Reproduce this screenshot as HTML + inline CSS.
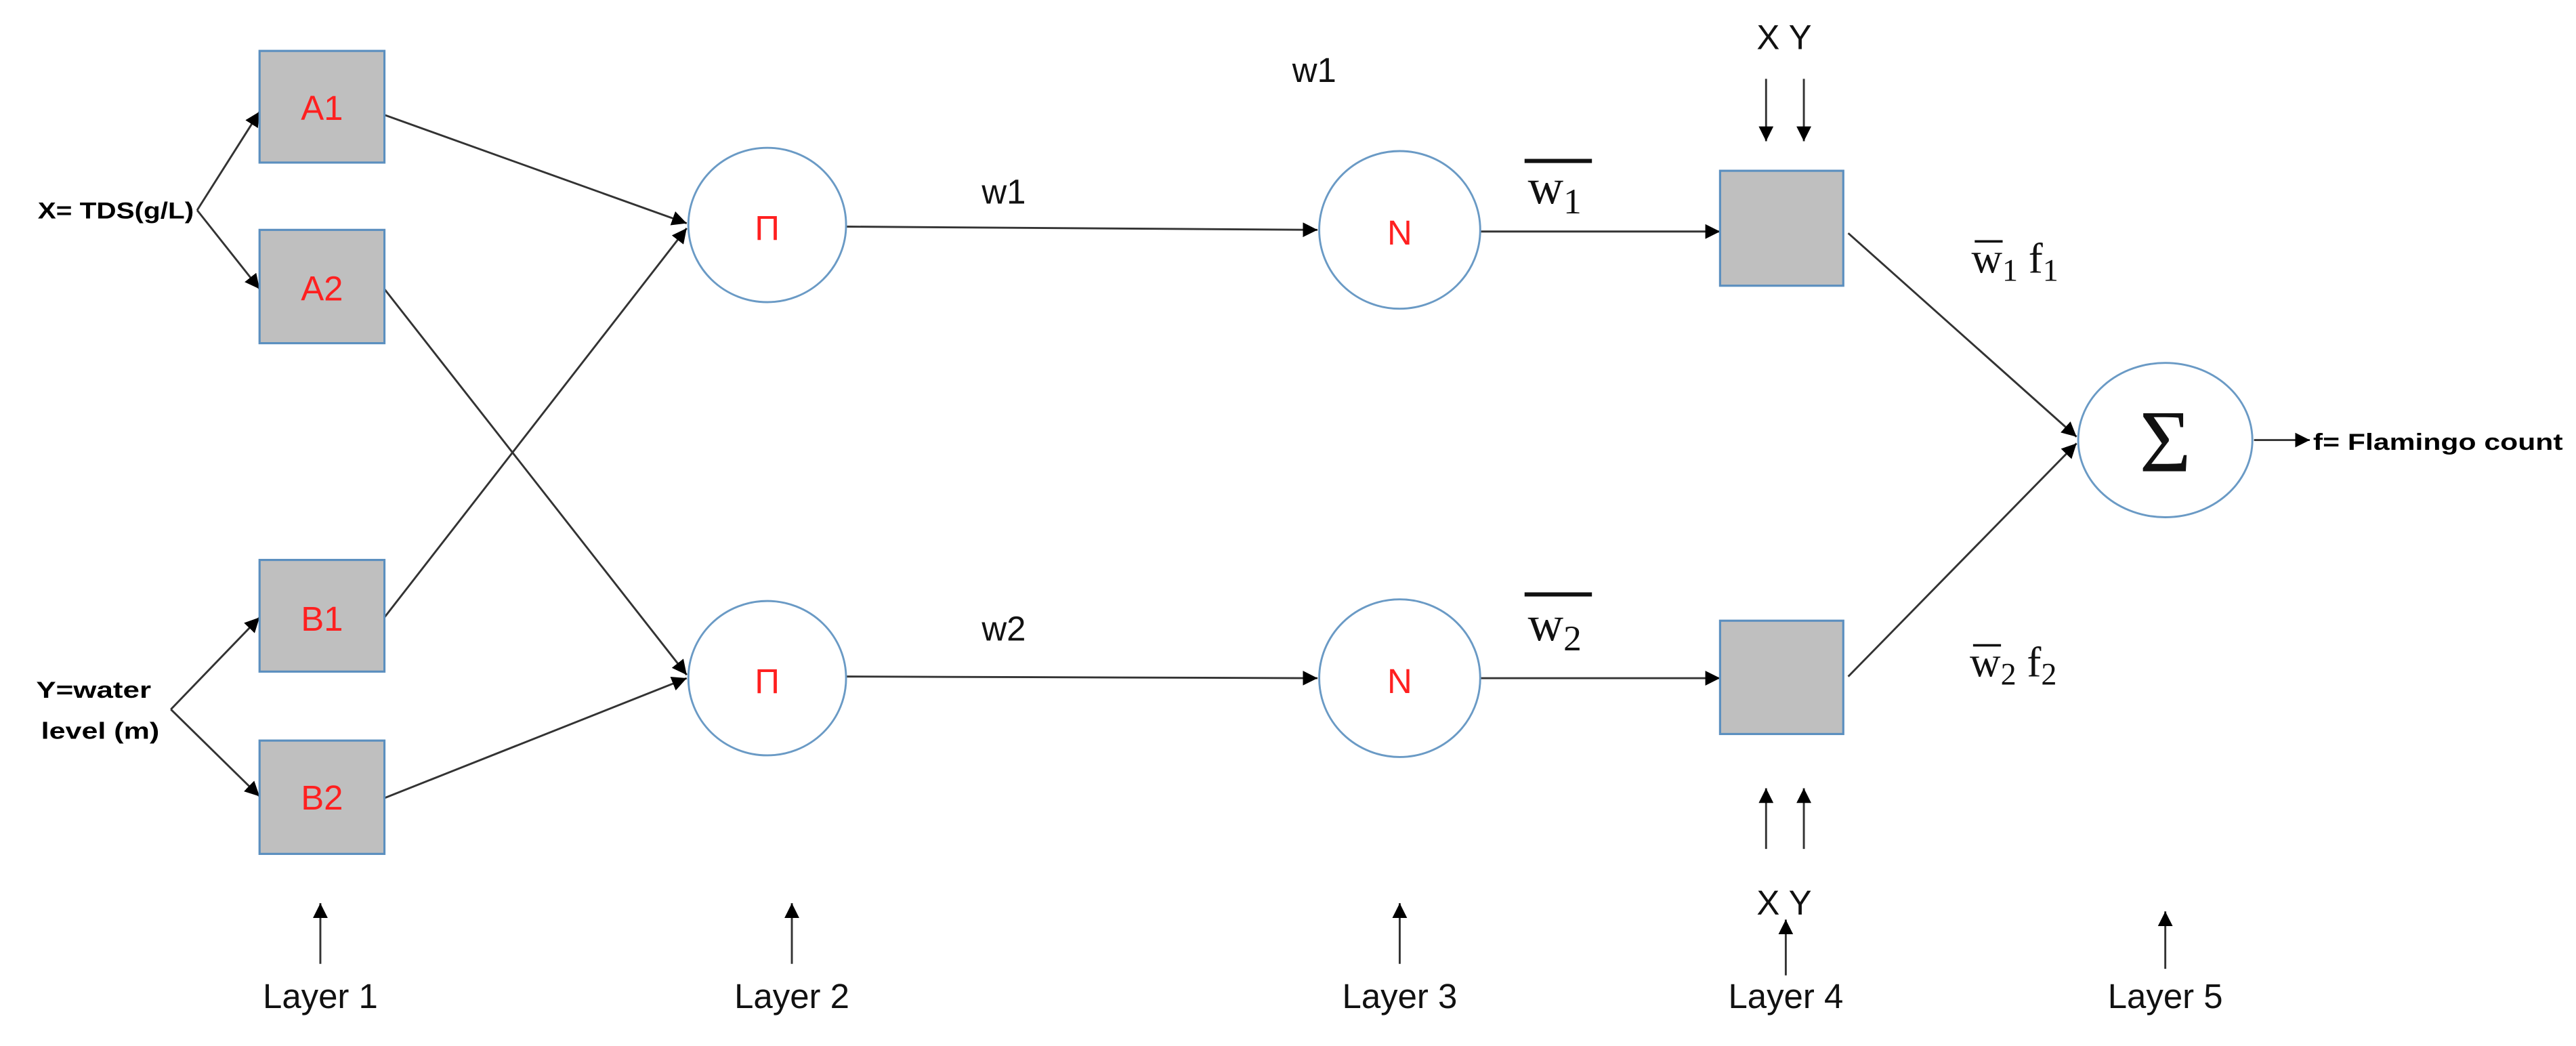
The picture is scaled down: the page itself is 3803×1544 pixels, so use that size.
<!DOCTYPE html>
<html><head><meta charset="utf-8"><style>
html,body{margin:0;padding:0;background:#fff;width:3803px;height:1544px;overflow:hidden}
svg{display:block}
.s{font-family:"Liberation Sans",sans-serif}
.r{font-family:"Liberation Serif",serif}
</style></head><body>
<svg width="3803" height="1544" viewBox="0 0 1568 637" preserveAspectRatio="none" xmlns="http://www.w3.org/2000/svg">
<defs><marker id="a" viewBox="0 0 10 10" refX="10" refY="5" markerWidth="9" markerHeight="9" markerUnits="userSpaceOnUse" orient="auto"><path d="M0,0L10,5L0,10z" fill="#000"/></marker></defs>
<g stroke="#333" stroke-width="1.2" fill="none" marker-end="url(#a)">
<line x1="120" y1="128" x2="158" y2="68"/>
<line x1="120" y1="128" x2="158" y2="176"/>
<line x1="104" y1="432" x2="158" y2="376"/>
<line x1="104" y1="432" x2="158" y2="485"/>
<line x1="234" y1="70" x2="418" y2="136"/>
<line x1="234" y1="176" x2="418" y2="411"/>
<line x1="234" y1="376" x2="418" y2="139"/>
<line x1="234" y1="486" x2="418" y2="413"/>
<line x1="515" y1="138" x2="802" y2="140"/>
<line x1="515" y1="412" x2="802" y2="413"/>
<line x1="900" y1="141" x2="1047" y2="141"/>
<line x1="900" y1="413" x2="1047" y2="413"/>
<line x1="1125" y1="142" x2="1264" y2="266"/>
<line x1="1125" y1="412" x2="1264" y2="270"/>
<line x1="1372" y1="268" x2="1406" y2="268"/>
<line x1="1075" y1="48" x2="1075" y2="86"/>
<line x1="1098" y1="48" x2="1098" y2="86"/>
<line x1="1075" y1="517" x2="1075" y2="480"/>
<line x1="1098" y1="517" x2="1098" y2="480"/>
<line x1="1087" y1="594" x2="1087" y2="560"/>
<line x1="195" y1="587" x2="195" y2="550"/>
<line x1="482" y1="587" x2="482" y2="550"/>
<line x1="852" y1="587" x2="852" y2="550"/>
<line x1="1318" y1="590" x2="1318" y2="555"/>
</g>
<g fill="#bfbfbf" stroke="#5b8fbf" stroke-width="1.3">
<rect x="158" y="31" width="76" height="68"/>
<rect x="158" y="140" width="76" height="69"/>
<rect x="158" y="341" width="76" height="68"/>
<rect x="158" y="451" width="76" height="69"/>
<rect x="1047" y="104" width="75" height="70"/>
<rect x="1047" y="378" width="75" height="69"/>
</g>
<g fill="#fff" stroke="#6a9ac5" stroke-width="1.2">
<ellipse cx="467" cy="137" rx="48" ry="47"/>
<ellipse cx="467" cy="413" rx="48" ry="47"/>
<ellipse cx="852" cy="140" rx="49" ry="48"/>
<ellipse cx="852" cy="413" rx="49" ry="48"/>
<ellipse cx="1318" cy="268" rx="53" ry="47"/>
</g>
<g class="s" fill="#ff2020" font-size="21" text-anchor="middle">
<text x="196" y="73">A1</text><text x="196" y="183">A2</text>
<text x="196" y="384">B1</text><text x="196" y="493">B2</text>
<text x="467" y="146">Π</text><text x="467" y="422">Π</text>
<text x="852" y="149">N</text><text x="852" y="422">N</text>
</g>
<g class="s" font-weight="bold" font-size="14" fill="#000">
<text x="23" y="133" textLength="95" lengthAdjust="spacingAndGlyphs">X= TDS(g/L)</text>
<text x="22" y="425" textLength="70" lengthAdjust="spacingAndGlyphs">Y=water</text>
<text x="25" y="450" textLength="72" lengthAdjust="spacingAndGlyphs">level (m)</text>
<text x="1408" y="274" textLength="152" lengthAdjust="spacingAndGlyphs">f= Flamingo count</text>
</g>
<g class="s" font-size="21" fill="#111" text-anchor="middle">
<text x="800" y="50">w1</text>
<text x="611" y="124">w1</text>
<text x="611" y="390">w2</text>
<text x="1086" y="30">X Y</text>
<text x="1086" y="557">X Y</text>
<text x="195" y="614">Layer 1</text>
<text x="482" y="614">Layer 2</text>
<text x="852" y="614">Layer 3</text>
<text x="1087" y="614">Layer 4</text>
<text x="1318" y="614">Layer 5</text>
</g>
<g class="r" fill="#111">
<line x1="928" y1="98" x2="969" y2="98" stroke="#111" stroke-width="2.5"/>
<text x="930" y="124" font-size="30">w<tspan font-size="22" dy="6">1</tspan></text>
<line x1="928" y1="362" x2="969" y2="362" stroke="#111" stroke-width="2.5"/>
<text x="930" y="390" font-size="30">w<tspan font-size="22" dy="6">2</tspan></text>
<line x1="1202" y1="147" x2="1219" y2="147" stroke="#111" stroke-width="1.5"/>
<text x="1200" y="166" font-size="26">w<tspan font-size="19" dy="5">1</tspan><tspan dy="-5"> f</tspan><tspan font-size="19" dy="5">1</tspan></text>
<line x1="1201" y1="393" x2="1218" y2="393" stroke="#111" stroke-width="1.5"/>
<text x="1199" y="412" font-size="26">w<tspan font-size="19" dy="5">2</tspan><tspan dy="-5"> f</tspan><tspan font-size="19" dy="5">2</tspan></text>
<text x="1318" y="287" font-size="54" text-anchor="middle">Σ</text>
</g>
</svg>
</body></html>
